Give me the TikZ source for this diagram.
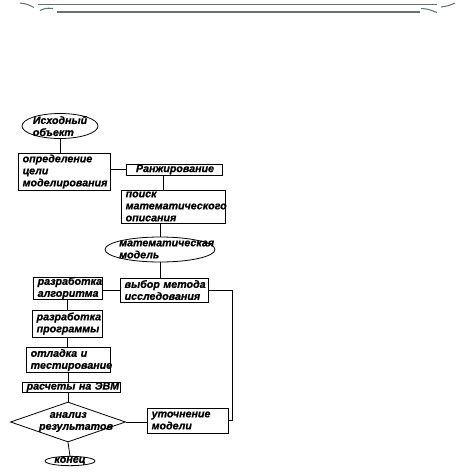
\documentclass[tikz,border=0pt]{standalone}
\usepackage{fontspec}
\setmainfont{Liberation Sans}[BoldItalicFeatures={FakeBold=0.8}]
\usetikzlibrary{shapes.geometric,shadows}
\definecolor{ornament}{RGB}{100,115,112}
\begin{document}
\begin{tikzpicture}[x=0.75pt, y=-0.75pt, line width=0.6pt,
  font=\bfseries\itshape\fontsize{8}{9}\selectfont,
  blok/.style={draw, fill=white, align=left, inner xsep=3.5pt, inner ysep=1pt,
    drop shadow={shadow xshift=0.7pt, shadow yshift=-0.7pt, fill=black!75, opacity=1}},
  oval/.style={draw, fill=white, ellipse, inner sep=0pt},
  romb/.style={draw, fill=white, diamond, inner sep=0pt},
  lbl/.style={align=left, inner sep=0pt}]
\useasboundingbox (0,0) rectangle (460,476);

\begin{scope}[draw=ornament, line width=0.8pt]
\draw (38,4.5) -- (437,4.5);
\draw (57,12) -- (420,12);
\draw (20,3) .. controls (27,4) .. (34,7.5);
\draw (40,10.5) .. controls (46,8) .. (53,8.5);
\draw (441,7) .. controls (448,6) .. (455,3);
\draw (421,8.5) .. controls (428,9) .. (437,12.5);
\end{scope}

\node[oval, minimum width=57pt, minimum height=18.75pt,
  label={[lbl]center:{Исходный\\объект}}] (iskhod) at (60,126) {};
\node[blok, text width=62pt, minimum height=27.75pt] (cel) at (64,171.5)
  {определение\\цели\\моделирования};
\node[blok, text width=65pt, minimum height=8.25pt, inner ysep=0pt] (rang) at (174,169.5)
  {\hspace*{4pt}Ранжирование};
\node[blok, text width=71pt, minimum height=24.75pt, inner ysep=0pt] (poisk) at (173,206.5)
  {поиск\\математического\\описания};
\node[oval, minimum width=82.5pt, minimum height=18.75pt,
  label={[lbl, xshift=5pt]center:{математическая\\модель}}] (matmod) at (160,249.5) {};
\node[blok, text width=59pt, minimum height=18pt] (vybor) at (164,290)
  {выбор~метода\\исследования};
\node[blok, text width=44.75pt, minimum height=15pt, inner ysep=0pt] (algo) at (67.5,288)
  {разработка\\алгоритма};
\node[blok, text width=45.5pt, minimum height=20.25pt] (prog) at (67,323.5)
  {разработка\\программы};
\node[blok, text width=56pt, minimum height=18pt] (otladka) at (68,360)
  {отладка~и\\тестирование};
\node[blok, text width=66.5pt, minimum height=7.5pt, inner ysep=0pt] (raschet) at (71,387)
  {расчеты~на~ЭВМ};
\node[romb, minimum width=86.25pt, minimum height=30pt,
  label={[lbl, xshift=6pt]center:{\hspace*{8pt}анализ\\результатов}}] (analiz) at (68,422) {};
\node[blok, text width=53.75pt, minimum height=18.75pt] (utoch) at (187.5,420.5)
  {уточнение\\модели};
\node[oval, minimum width=37.5pt, minimum height=7pt,
  label={[lbl]center:{конец}}] (konec) at (70,461) {};
\coordinate (povorot) at (232,0);

\draw (iskhod.south) -- (iskhod.south |- cel.north);
\draw (rang.west) -- (rang.west -| cel.east);
\draw ([xshift=-8pt]rang.south) -- ([xshift=-8pt]rang.south |- poisk.north);
\draw (matmod.north |- poisk.south) -- (matmod.north);
\draw (matmod.south) -- (matmod.south |- vybor.north);
\draw (vybor.west) -- (vybor.west -| algo.east);
\draw (algo.south) -- (algo.south |- prog.north);
\draw (prog.south) -- (prog.south |- otladka.north);
\draw (otladka.south) -- (otladka.south |- raschet.north);
\draw (analiz.north |- raschet.south) -- (analiz.north);
\draw (analiz.east) -- (analiz.east -| utoch.west);
\draw (analiz.south) -- (konec.north);
\draw (vybor.east) -- (vybor.east -| povorot) -- (utoch.east -| povorot) -- (utoch.east);
\end{tikzpicture}
\end{document}
